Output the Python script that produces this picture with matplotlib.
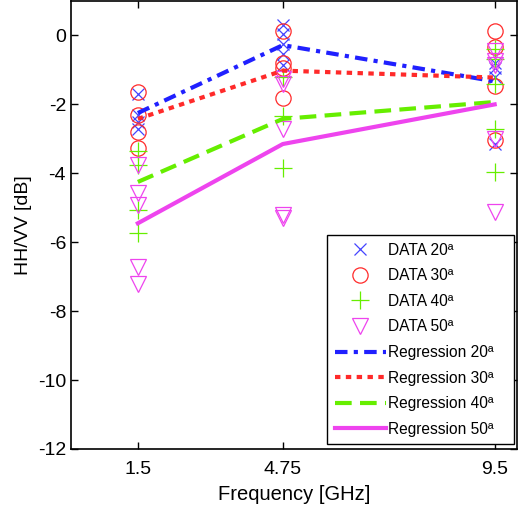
import matplotlib
matplotlib.use("Agg")
import matplotlib.pyplot as plt
from matplotlib.lines import Line2D

plt.rcParams['font.family'] = ['Liberation Sans', 'DejaVu Sans']
plt.rcParams['axes.unicode_minus'] = False

freqs = [1.5, 4.75, 9.5]
freq_labels = ['1.5', '4.75', '9.5']

# Measured points per frequency
data20 = [[-1.7, -2.3, -2.5, -2.7], [0.3, 0.05, -0.25, -0.55, -0.85], [-0.8, -0.95, -1.2, -3.15]]
data30 = [[-1.65, -2.3, -2.8, -3.27], [0.12, -0.8, -0.95, -1.82], [0.12, -0.32, -1.48, -3.02]]
data40 = [[-3.35, -3.77, -5.07, -5.74], [-1.2, -2.35, -3.84], [-0.4, -0.68, -1.4, -2.72, -3.96]]
data50 = [[-3.75, -4.58, -4.93, -6.72, -7.2], [-1.25, -1.42, -2.72, -5.2, -5.3], [-0.45, -0.75, -0.85, -3.0, -5.12]]

reg20 = [-2.25, -0.28, -1.33]
reg30 = [-2.42, -1.02, -1.22]
reg40 = [-4.25, -2.42, -1.93]
reg50 = [-5.45, -3.15, -2.0]

labels_data = ['DATA 20ª', 'DATA 30ª', 'DATA 40ª', 'DATA 50ª']
labels_reg = ['Regression 20ª', 'Regression 30ª', 'Regression 40ª', 'Regression 50ª']

fig = plt.figure(figsize=(5.18, 5.14), dpi=100)
ax = fig.add_axes([0.137, 0.1265, 0.861, 0.8715])

c_blue = '#2020ff'
c_red = '#ff2a2a'
c_green = '#66ee00'
c_mag = '#ee44ee'
c_xb = '#4444ff'

def scatter_set(data, marker, color, ms):
    xs, ys = [], []
    for f, vals in zip(freqs, data):
        for v in vals:
            xs.append(f)
            ys.append(v)
    ax.plot(xs, ys, linestyle='none', marker=marker, markersize=ms,
            markerfacecolor='none', markeredgecolor=color, markeredgewidth=0.9)

scatter_set(data20, 'x', c_xb, 9)
scatter_set(data30, 'o', c_red, 11)
scatter_set(data40, '+', c_green, 13)
scatter_set(data50, 'v', c_mag, 11)

ls20 = (0, (3, 1.5, 1, 1.5))
ls30 = (0, (1.3, 1.3))
ls40 = (0, (4, 2))

ax.plot(freqs, reg20, color=c_blue, lw=3, linestyle=ls20)
ax.plot(freqs, reg30, color=c_red, lw=3, linestyle=ls30)
ax.plot(freqs, reg40, color=c_green, lw=3, linestyle=ls40)
ax.plot(freqs, reg50, color=c_mag, lw=3, linestyle='-')

ax.set_xlim(0, 10)
ax.set_ylim(-12, 1)
ax.set_xticks(freqs)
ax.set_xticklabels(freq_labels)
ax.set_yticks([0, -2, -4, -6, -8, -10, -12])
ax.tick_params(direction='in', top=True, right=True, labelsize=14, length=5, width=1)
ax.tick_params(axis='x', pad=9)
for s in ax.spines.values():
    s.set_linewidth(1.2)
ax.set_xlabel('Frequency [GHz]', fontsize=14.5, labelpad=5)
ax.set_ylabel('HH/VV [dB]', fontsize=14, labelpad=4)

handles = [
    Line2D([], [], linestyle='none', marker='x', markersize=9, markeredgecolor=c_xb, markerfacecolor='none', markeredgewidth=0.9),
    Line2D([], [], linestyle='none', marker='o', markersize=11, markeredgecolor=c_red, markerfacecolor='none', markeredgewidth=0.9),
    Line2D([], [], linestyle='none', marker='+', markersize=13, markeredgecolor=c_green, markerfacecolor='none', markeredgewidth=0.9),
    Line2D([], [], linestyle='none', marker='v', markersize=11, markeredgecolor=c_mag, markerfacecolor='none', markeredgewidth=0.9),
    Line2D([], [], color=c_blue, lw=3, linestyle=ls20),
    Line2D([], [], color=c_red, lw=3, linestyle=ls30),
    Line2D([], [], color=c_green, lw=3, linestyle=ls40),
    Line2D([], [], color=c_mag, lw=3, linestyle='-'),
]
leg = fig.legend(handles, labels_data + labels_reg, loc='upper left',
                 bbox_to_anchor=(0.631, 0.143, 0.361, 0.4), mode='expand',
                 fontsize=11.2, frameon=True,
                 fancybox=False, edgecolor='black', framealpha=1,
                 handlelength=3.3, handletextpad=0.1, labelspacing=0.68,
                 borderpad=0.5, borderaxespad=0)
leg.get_frame().set_linewidth(1)

fig.savefig('out.png', dpi=100)
